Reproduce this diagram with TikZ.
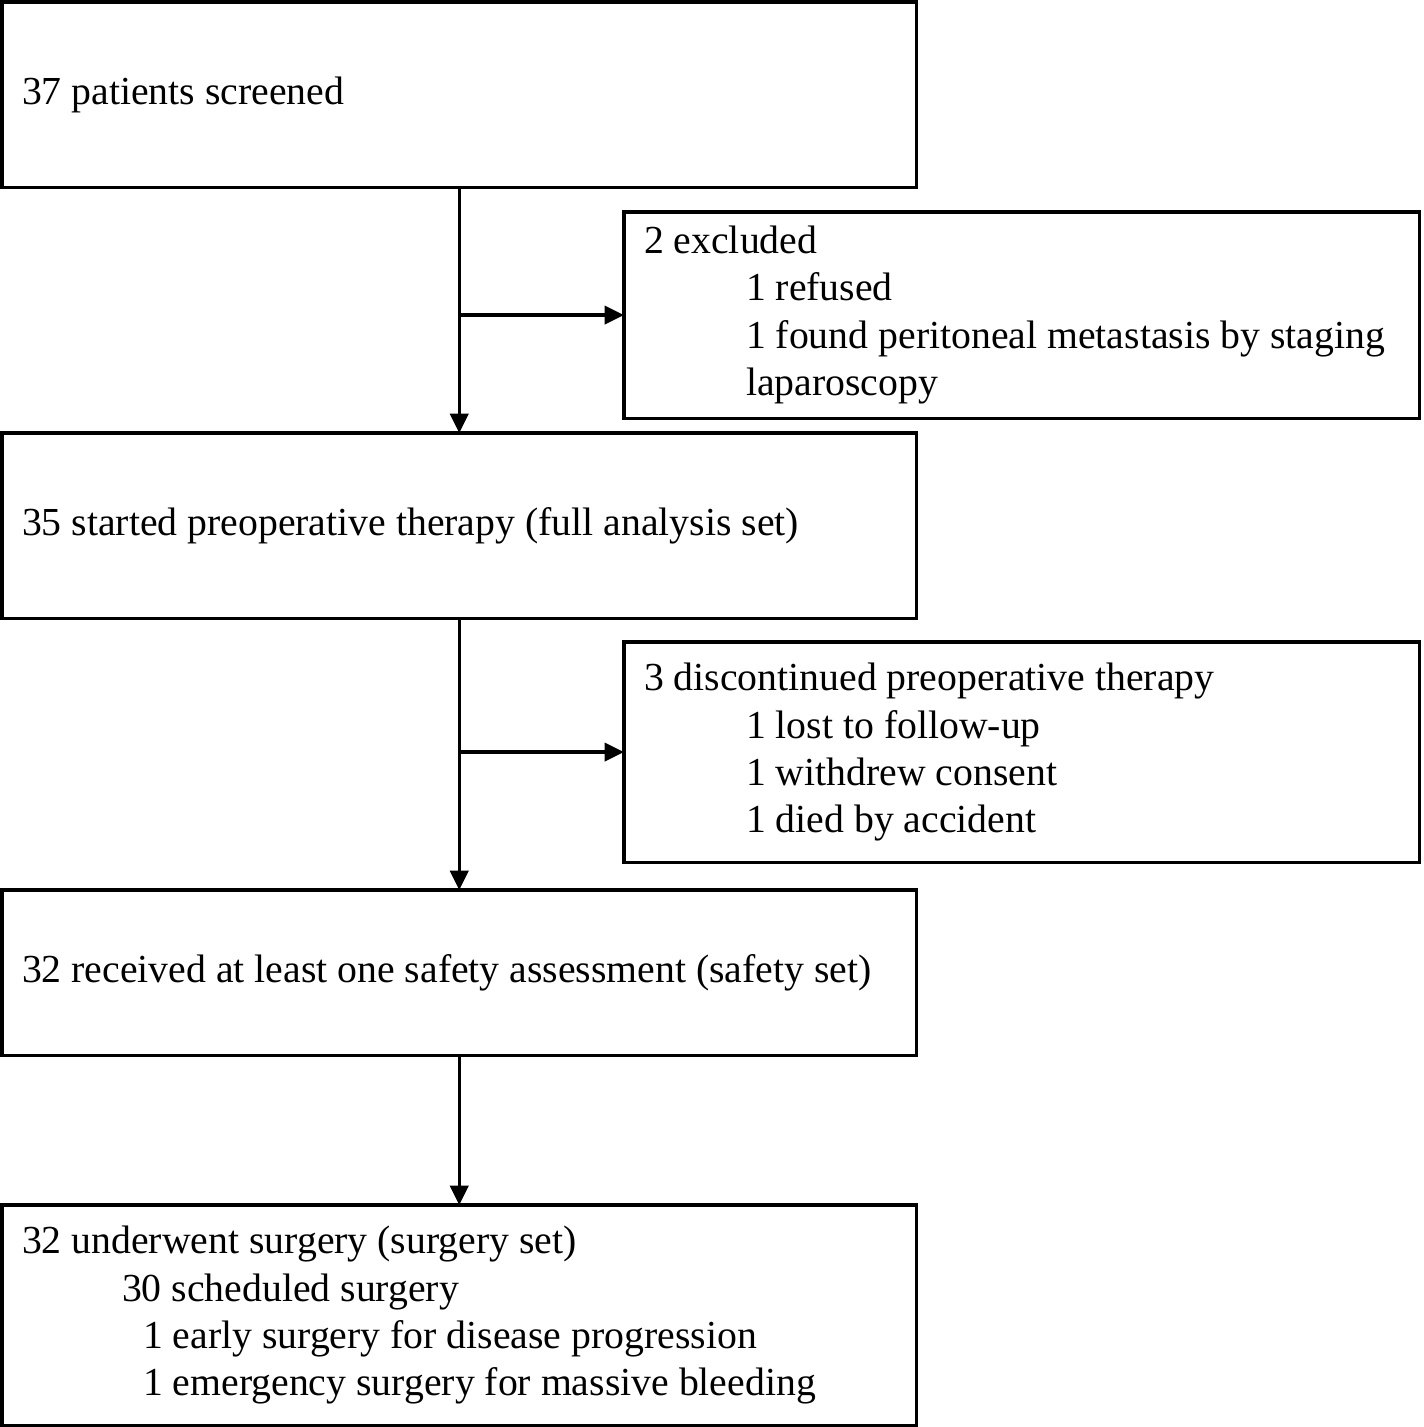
\documentclass[tikz,border=0pt]{standalone}
\usepackage{fontspec}
\setmainfont{Liberation Serif}
\usetikzlibrary{arrows.meta}
\usetikzlibrary{positioning}

\begin{document}
\begin{tikzpicture}[x=0.01cm, y=-0.01cm]
\tikzset{MainBox/.style = {draw, line width=0.9pt, anchor=north west, outer sep=0pt, inner xsep=0.2cm, inner ysep=0pt, align=flush left, text width=8.74cm, minimum width=9.14cm, font=\fontsize{11.3}{13.4}\selectfont}}
\tikzset{SideBox/.style = {MainBox, text width=7.55cm, minimum width=7.95cm}}
\tikzset{FlowArrow/.style = {-{Triangle[length=5.5pt, width=5.2pt]}, line width=0.9pt}}
\useasboundingbox (0,0) rectangle (1424,1427);
	\node[MainBox, minimum height=1.85cm] (screened) at (2,2) {37 patients screened};
	\node[SideBox, minimum height=2.06cm] (excluded) at (624,212) {2 excluded\\
		\hspace*{1.02cm}1 refused\\
		\hspace*{1.02cm}1 found peritoneal metastasis by staging\\
		\hspace*{1.02cm}laparoscopy};
	\node[MainBox, minimum height=1.85cm] (started) at (2,433) {35 started preoperative therapy (full analysis set)};
	\node[SideBox, minimum height=2.20cm] (discont) at (624,642) {3 discontinued preoperative therapy\\
		\hspace*{1.02cm}1 lost to follow-up\\
		\hspace*{1.02cm}1 withdrew consent\\
		\hspace*{1.02cm}1 died by accident};
	\node[MainBox, minimum height=1.65cm] (safety) at (2,890) {32 received at least one safety assessment (safety set)};
	\node[MainBox, minimum height=2.20cm] (surgery) at (2,1205) {32 underwent surgery (surgery set)\\
		\hspace*{1.00cm}30 scheduled surgery\\
		\hspace*{1.21cm}1 early surgery for disease progression\\
		\hspace*{1.21cm}1 emergency surgery for massive bleeding};
	\coordinate (split1) at (screened.south |- excluded.west);
	\coordinate (split2) at (started.south |- discont.west);
	\draw[FlowArrow] (screened.south) -- (started.north);
	\draw[FlowArrow] (split1) -- (excluded.west);
	\draw[FlowArrow] (started.south) -- (safety.north);
	\draw[FlowArrow] (split2) -- (discont.west);
	\draw[FlowArrow] (safety.south) -- (surgery.north);
\end{tikzpicture}
\end{document}
